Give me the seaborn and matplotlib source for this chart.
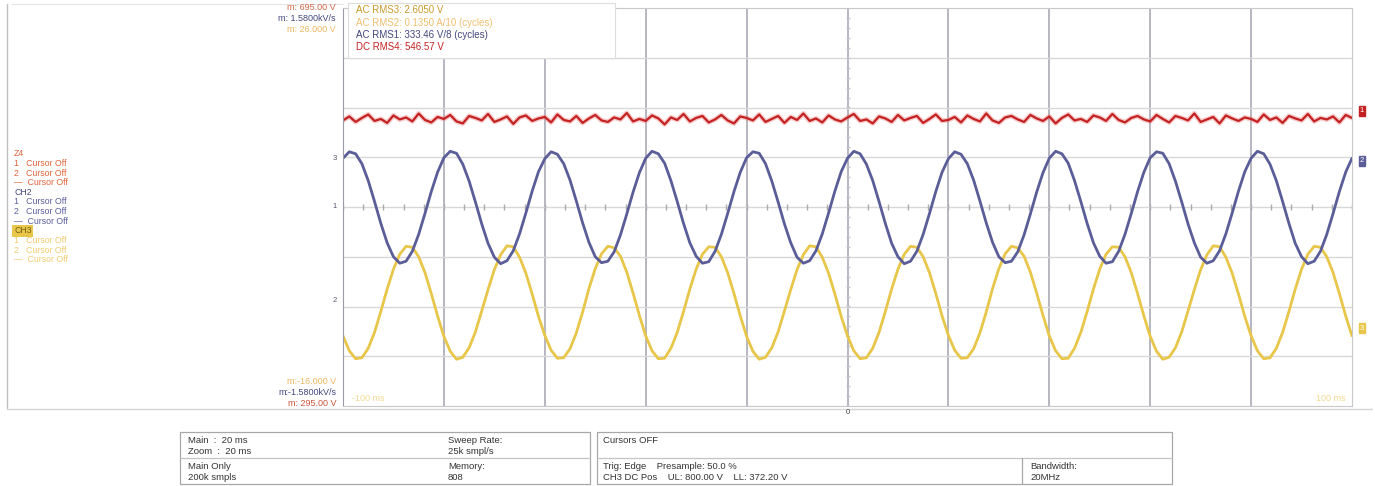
import numpy as np
import pandas as pd
import seaborn as sns
from matplotlib import pyplot as plt
from matplotlib.patches import Rectangle
from matplotlib.lines import Line2D

# ---- data (vertical divisions) ----
# time axis: 20 ms/div, 16 samples per div, -100 ms .. 100 ms
ch1_red = [
    1.74, 1.82, 1.71, 1.79, 1.86, 1.73, 1.77, 1.69, 1.84, 1.76, 1.80, 1.72, 1.88, 1.75, 1.70, 1.81,
    1.77, 1.85, 1.72, 1.68, 1.83, 1.79, 1.74, 1.87, 1.71, 1.76, 1.82, 1.67, 1.80, 1.84, 1.73, 1.78,
    1.81, 1.70, 1.86, 1.75, 1.72, 1.83, 1.69, 1.78, 1.85, 1.74, 1.71, 1.80, 1.76, 1.89, 1.72, 1.77,
    1.73, 1.84, 1.78, 1.66, 1.80, 1.75, 1.87, 1.72, 1.79, 1.83, 1.70, 1.76, 1.85, 1.74, 1.68, 1.82,
    1.79, 1.74, 1.86, 1.71, 1.77, 1.83, 1.69, 1.81, 1.75, 1.88, 1.73, 1.78, 1.70, 1.84, 1.76, 1.72,
    1.80, 1.87, 1.73, 1.76, 1.68, 1.82, 1.78, 1.71, 1.85, 1.74, 1.79, 1.83, 1.69, 1.77, 1.86, 1.73,
    1.75, 1.81, 1.70, 1.84, 1.77, 1.72, 1.88, 1.74, 1.69, 1.80, 1.83, 1.76, 1.71, 1.85, 1.78, 1.73,
    1.82, 1.68, 1.79, 1.86, 1.74, 1.77, 1.71, 1.84, 1.80, 1.73, 1.87, 1.75, 1.70, 1.79, 1.83, 1.76,
    1.72, 1.85, 1.77, 1.70, 1.83, 1.79, 1.74, 1.88, 1.71, 1.76, 1.81, 1.68, 1.84, 1.78, 1.73, 1.80,
    1.77, 1.71, 1.86, 1.75, 1.80, 1.69, 1.83, 1.78, 1.74, 1.87, 1.72, 1.79, 1.76, 1.82, 1.70, 1.85,
    1.79]
ch2_blue = [
    0.98, 1.11, 1.07, 0.87, 0.53, 0.11, -0.33, -0.72, -1.00, -1.13, -1.09, -0.89, -0.55, -0.13, 0.31, 0.70,
    0.99, 1.12, 1.08, 0.86, 0.52, 0.10, -0.34, -0.73, -1.01, -1.14, -1.08, -0.88, -0.54, -0.12, 0.32, 0.71,
    0.97, 1.11, 1.06, 0.87, 0.54, 0.12, -0.32, -0.71, -1.00, -1.12, -1.09, -0.90, -0.56, -0.14, 0.30, 0.69,
    0.98, 1.12, 1.07, 0.88, 0.53, 0.11, -0.33, -0.72, -0.99, -1.13, -1.10, -0.89, -0.55, -0.13, 0.31, 0.70,
    0.99, 1.11, 1.08, 0.87, 0.52, 0.10, -0.34, -0.72, -1.01, -1.13, -1.08, -0.88, -0.54, -0.12, 0.32, 0.71,
    0.98, 1.12, 1.07, 0.86, 0.53, 0.11, -0.33, -0.73, -1.00, -1.14, -1.09, -0.89, -0.55, -0.13, 0.31, 0.70,
    0.97, 1.11, 1.06, 0.87, 0.54, 0.12, -0.32, -0.71, -1.00, -1.12, -1.09, -0.90, -0.56, -0.14, 0.30, 0.69,
    0.98, 1.12, 1.07, 0.88, 0.53, 0.11, -0.33, -0.72, -0.99, -1.13, -1.10, -0.89, -0.55, -0.13, 0.31, 0.70,
    0.99, 1.11, 1.08, 0.87, 0.52, 0.10, -0.34, -0.72, -1.01, -1.13, -1.08, -0.88, -0.54, -0.12, 0.32, 0.71,
    0.98, 1.12, 1.07, 0.86, 0.53, 0.11, -0.33, -0.73, -1.00, -1.14, -1.09, -0.89, -0.55, -0.13, 0.31, 0.70,
    0.98]
ch3_yellow = [
    -2.59, -2.89, -3.05, -3.03, -2.84, -2.52, -2.10, -1.65, -1.25, -0.95, -0.79, -0.81, -1.00, -1.32, -1.74, -2.19,
    -2.60, -2.90, -3.06, -3.02, -2.83, -2.51, -2.09, -1.66, -1.26, -0.96, -0.78, -0.80, -1.01, -1.33, -1.75, -2.20,
    -2.58, -2.88, -3.04, -3.03, -2.85, -2.53, -2.11, -1.64, -1.24, -0.94, -0.79, -0.82, -0.99, -1.31, -1.73, -2.18,
    -2.59, -2.89, -3.05, -3.04, -2.84, -2.52, -2.10, -1.65, -1.25, -0.95, -0.80, -0.81, -1.00, -1.32, -1.74, -2.19,
    -2.60, -2.90, -3.06, -3.02, -2.83, -2.51, -2.09, -1.66, -1.26, -0.96, -0.78, -0.80, -1.01, -1.33, -1.75, -2.20,
    -2.59, -2.89, -3.05, -3.03, -2.84, -2.52, -2.10, -1.65, -1.25, -0.95, -0.79, -0.81, -1.00, -1.32, -1.74, -2.19,
    -2.58, -2.88, -3.04, -3.03, -2.85, -2.53, -2.11, -1.64, -1.24, -0.94, -0.79, -0.82, -0.99, -1.31, -1.73, -2.18,
    -2.59, -2.89, -3.05, -3.04, -2.84, -2.52, -2.10, -1.65, -1.25, -0.95, -0.80, -0.81, -1.00, -1.32, -1.74, -2.19,
    -2.60, -2.90, -3.06, -3.02, -2.83, -2.51, -2.09, -1.66, -1.26, -0.96, -0.78, -0.80, -1.01, -1.33, -1.75, -2.20,
    -2.59, -2.89, -3.05, -3.03, -2.84, -2.52, -2.10, -1.65, -1.25, -0.95, -0.79, -0.81, -1.00, -1.32, -1.74, -2.19,
    -2.59]
time_ms = np.arange(len(ch1_red)) * 1.25 - 100

meas_lines = ['AC RMS3: 2.6050 V', 'AC RMS2: 0.1350 A/10 (cycles)',
              'AC RMS1: 333.46 V/8 (cycles)', 'DC RMS4: 546.57 V']
top_scale = ['m: 695.00 V', 'm: 1.5800kV/s', 'm: 26.000 V']
bot_scale = ['m:-16.000 V', 'm:-1.5800kV/s', 'm: 295.00 V']

RED, BLUE, YEL = '#c42222', '#5a5d98', '#e8c64a'
W, H = 1375, 486
fx = lambda px: px / W
fy = lambda py: 1 - py / H

sns.set_style('white')
plt.rcParams['font.family'] = ['Liberation Sans', 'DejaVu Sans']
fig = plt.figure(figsize=(13.75, 4.86), dpi=100)
ax = fig.add_axes([fx(343), fy(406), fx(1352) - fx(343), fy(8) - fy(406)])

df = pd.DataFrame({'t': time_ms, 'ch1': ch1_red, 'ch2': ch2_blue, 'ch3': ch3_yellow})
sns.lineplot(data=df, x='t', y='ch3', ax=ax, color=YEL, lw=2.0)
sns.lineplot(data=df, x='t', y='ch2', ax=ax, color=BLUE, lw=2.0)
# red trace: soft halo + darker core
sns.lineplot(data=df, x='t', y='ch1', ax=ax, color='#e86a6a', lw=3.6, alpha=0.35)
sns.lineplot(data=df, x='t', y='ch1', ax=ax, color=RED, lw=1.6)

ax.set_xlim(-100, 100)
ax.set_ylim(-4, 4)
ax.set_xlabel('')
ax.set_ylabel('')
ax.set_xticks([])
ax.set_yticks([])
for xv in range(-80, 100, 20):
    ax.axvline(xv, color='#a3a3b0', lw=1.1, zorder=0)
for yv in range(-3, 4):
    ax.axhline(yv, color='#d8d8d8', lw=1.0, zorder=0)
# center crosshair minor ticks
mt = np.arange(-100, 101, 4)
ax.plot(mt, np.zeros_like(mt), ls='none', marker='|', ms=4, color='#ababab', zorder=0)
mt = np.arange(-4, 4.01, 0.2)
ax.plot(np.zeros_like(mt), mt, ls='none', marker='_', ms=3, color='#c4c4c4', zorder=0)
for s in ax.spines.values():
    s.set_color('#c8c8c8')
ax.spines['left'].set_color('#9a9aa8')

# measurement box
fig.patches.append(Rectangle((fx(348), fy(58)), fx(615) - fx(348), fy(3) - fy(58),
                             transform=fig.transFigure, fc='white', ec='#dddddd', lw=0.8, zorder=3))
for i, (txt, c) in enumerate(zip(meas_lines, ['#c89a2a', '#f0c070', '#45487e', RED])):
    fig.text(fx(356), fy(10 + i * 12.5), txt, color=c, fontsize=7, va='center', zorder=4)

for i, (txt, c) in enumerate(zip(top_scale, ['#d26a48', '#45487e', '#eab860'])):
    fig.text(fx(336), fy(8 + i * 10.5), txt, color=c, fontsize=6.5, ha='right', va='center')
for i, (txt, c) in enumerate(zip(bot_scale, ['#eab860', '#45487e', '#c8553a'])):
    fig.text(fx(336), fy(382 + i * 10.5), txt, color=c, fontsize=6.5, ha='right', va='center')

# channel reference marks on the left edge
for yp, t in [(158, '3'), (207, '1'), (300, '2')]:
    fig.text(fx(337), fy(yp), t, color='#55576a', fontsize=5.5, ha='right', va='center')

fig.text(fx(352), fy(398), '-100 ms', color='#f2d890', fontsize=6.5, va='center')
fig.text(fx(1345), fy(398), '100 ms', color='#f2d890', fontsize=6.5, ha='right', va='center')
fig.text(fx(848), fy(413), '0', color='#444444', fontsize=5.5, ha='center', va='center')

# channel markers on the right edge
for yp, c, t in [(111, RED, '1'), (161, BLUE, '2'), (328, YEL, '3')]:
    fig.text(fx(1362), fy(yp), t, color='white', fontsize=5.5, ha='center', va='center',
             bbox=dict(boxstyle='square,pad=0.15', fc=c, ec=c))

# channel legend panel
legend_rows = [('Z4', '#e0643a'), ('1   Cursor Off', '#e0643a'), ('2   Cursor Off', '#e0643a'),
               ('—  Cursor Off', '#e0643a'), ('CH2', '#45487e'), ('1   Cursor Off', '#5c5f9e'),
               ('2   Cursor Off', '#5c5f9e'), ('—  Cursor Off', '#5c5f9e'), ('CH3', '#7a6010'),
               ('1   Cursor Off', '#f0cc70'), ('2   Cursor Off', '#f0cc70'), ('—  Cursor Off', '#f0cc70')]
for i, (txt, c) in enumerate(legend_rows):
    kw = {}
    if txt == 'CH3':
        kw['bbox'] = dict(boxstyle='square,pad=0.2', fc='#e8c64a', ec='none')
    fig.text(fx(14), fy(154 + i * 9.6), txt, color=c, fontsize=6.3, va='center', **kw)

# outer frame lines
fig.add_artist(Line2D([fx(7), fx(7)], [fy(4), fy(408)], color='#c0c0c0', lw=1.0))
fig.add_artist(Line2D([fx(7), fx(1372)], [fy(409), fy(409)], color='#d4d4d4', lw=1.0))
fig.add_artist(Line2D([fx(12), fx(343)], [fy(4), fy(4)], color='#e4e4e4', lw=0.8))

# bottom info boxes
def box(x0, y0, x1, y1):
    fig.patches.append(Rectangle((fx(x0), fy(y1)), fx(x1) - fx(x0), fy(y0) - fy(y1),
                                 transform=fig.transFigure, fc='none', ec='#a8a8a8', lw=0.9))

box(180, 432, 590, 484)
fig.add_artist(Line2D([fx(180), fx(590)], [fy(458), fy(458)], color='#c4c4c4', lw=0.9))
box(597, 432, 1172, 484)
fig.add_artist(Line2D([fx(597), fx(1172)], [fy(458), fy(458)], color='#c4c4c4', lw=0.9))
fig.add_artist(Line2D([fx(1022), fx(1022)], [fy(458), fy(484)], color='#a8a8a8', lw=0.9))

info = [(188, 440, 'Main  :  20 ms'), (188, 451, 'Zoom  :  20 ms'),
        (448, 440, 'Sweep Rate:'), (448, 451, '25k smpl/s'),
        (188, 466, 'Main Only'), (188, 477, '200k smpls'),
        (448, 466, 'Memory:'), (448, 477, '808'),
        (603, 440, 'Cursors OFF'),
        (603, 466, 'Trig: Edge    Presample: 50.0 %'),
        (603, 477, 'CH3 DC Pos    UL: 800.00 V    LL: 372.20 V'),
        (1030, 466, 'Bandwidth:'), (1030, 477, '20MHz')]
for x0, y0, txt in info:
    fig.text(fx(x0), fy(y0), txt, color='#333333', fontsize=6.8, va='center')

plt.savefig('out.png', dpi=100)
